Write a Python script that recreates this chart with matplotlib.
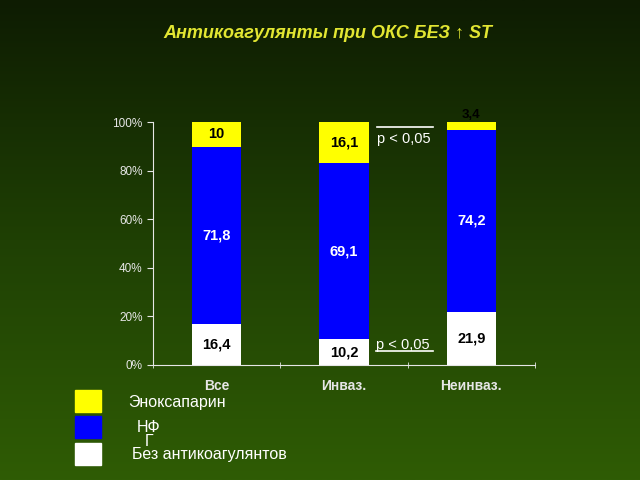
import matplotlib
matplotlib.use("Agg")
import matplotlib.pyplot as plt
import numpy as np
from matplotlib.patches import Rectangle
from matplotlib.colors import LinearSegmentedColormap

plt.rcParams['font.family'] = ['Liberation Sans', 'DejaVu Sans']

# данные (проценты, как подписано на диаграмме)
categories = ["Все", "Инваз.", "Неинваз."]
no_anticoag = [16.4, 10.2, 21.9]
ufh = [71.8, 69.1, 74.2]
enox = [10, 16.1, 3.4]
yticks = [0, 20, 40, 60, 80, 100]

c_yellow = "#ffff00"
c_blue = "#0000ff"
c_white = "#ffffff"

fig = plt.figure(figsize=(6.4, 4.8), dpi=100)

# фон - градиент
bg = fig.add_axes([0, 0, 1, 1], zorder=-1)
grad = np.linspace(0, 1, 256).reshape(-1, 1)
cmap = LinearSegmentedColormap.from_list("bg", ["#0e1c02", "#1f4004", "#2f5c05"])
bg.imshow(grad, aspect="auto", cmap=cmap, extent=[0, 1, 0, 1], origin="upper")
bg.axis("off")

ax = fig.add_axes([0.239, 0.2396, 0.597, 0.506])
ax.set_facecolor("none")

tot = np.array(no_anticoag) + np.array(ufh) + np.array(enox)
w = 100 * np.array(no_anticoag) / tot
b = 100 * np.array(ufh) / tot
y = 100 * np.array(enox) / tot
x = np.arange(len(categories))
bw = 0.39

ax.bar(x, w, bw, color=c_white)
ax.bar(x, b, bw, bottom=w, color=c_blue)
ax.bar(x, y, bw, bottom=w + b, color=c_yellow)

fs = 10.5
for i in range(len(x)):
    ax.text(x[i], w[i] / 2, f"{no_anticoag[i]}".replace(".", ","), ha="center", va="center",
            fontsize=fs, fontweight="bold", color="black")
    ax.text(x[i], w[i] + b[i] / 2, f"{ufh[i]}".replace(".", ","), ha="center", va="center",
            fontsize=fs, fontweight="bold", color="white")
    lab = f"{enox[i]:g}".replace(".", ",")
    if y[i] < 6:
        ax.text(x[i], 100.3, lab, ha="center", va="bottom",
                fontsize=fs - 1, fontweight="bold", color="black")
    else:
        ax.text(x[i], w[i] + b[i] + y[i] / 2, lab, ha="center", va="center",
                fontsize=fs, fontweight="bold", color="black")

# p-значения
ax.text(1.26, 93.2, "p < 0,05", ha="left", va="center", fontsize=10.5, color="white")
ax.plot([1.26, 1.70], [98.0, 98.0], color="white", lw=1.2, clip_on=False)
ax.text(1.25, 8.4, "p < 0,05", ha="left", va="center", fontsize=10.5, color="white")
ax.plot([1.25, 1.70], [5.6, 5.6], color="white", lw=1.2, clip_on=False)

ax.set_xlim(-0.5, 2.5)
ax.set_ylim(0, 100)
ax.set_yticks(yticks)
ax.set_yticklabels([f"{t}%" for t in yticks], fontsize=8.5, color="#e6e6e6")
ax.set_xticks(x)
ax.set_xticklabels(categories, fontsize=10, fontweight="bold", color="#e6e6e6")
ax.set_xticks([-0.5, 0.5, 1.5, 2.5], minor=True)
ax.tick_params(axis="x", which="major", length=0, pad=10)
ax.tick_params(axis="x", which="minor", length=5, direction="inout", color="#e6e6e6")
ax.tick_params(axis="y", length=4, color="#e6e6e6")
for s in ["top", "right"]:
    ax.spines[s].set_visible(False)
for s in ["left", "bottom"]:
    ax.spines[s].set_color("#e6e6e6")

fig.text(0.513, 0.931, "Антикоагулянты при ОКС БЕЗ ↑ ST", ha="center", va="center",
         fontsize=13, fontweight="bold", fontstyle="italic", color="#e2e632")

# легенда
for yy, col in [(390, c_yellow), (416, c_blue), (443, c_white)]:
    fig.patches.append(Rectangle((75 / 640, 1 - (yy + 22) / 480), 26 / 640, 22 / 480,
                                 transform=fig.transFigure, color=col))
fs_leg = 11.5
fig.text(128 / 640, 1 - 402 / 480, "Эноксапарин", ha="left", va="center", fontsize=fs_leg, color="white")
fig.text(137 / 640, 1 - 428 / 480, "НФ", ha="left", va="center", fontsize=fs_leg, color="white")
fig.text(145 / 640, 1 - 441 / 480, "Г", ha="left", va="center", fontsize=fs_leg, color="white")
fig.text(132 / 640, 1 - 455 / 480, "Без антикоагулянтов", ha="left", va="center", fontsize=fs_leg, color="white")

fig.savefig("out.png", dpi=100)
